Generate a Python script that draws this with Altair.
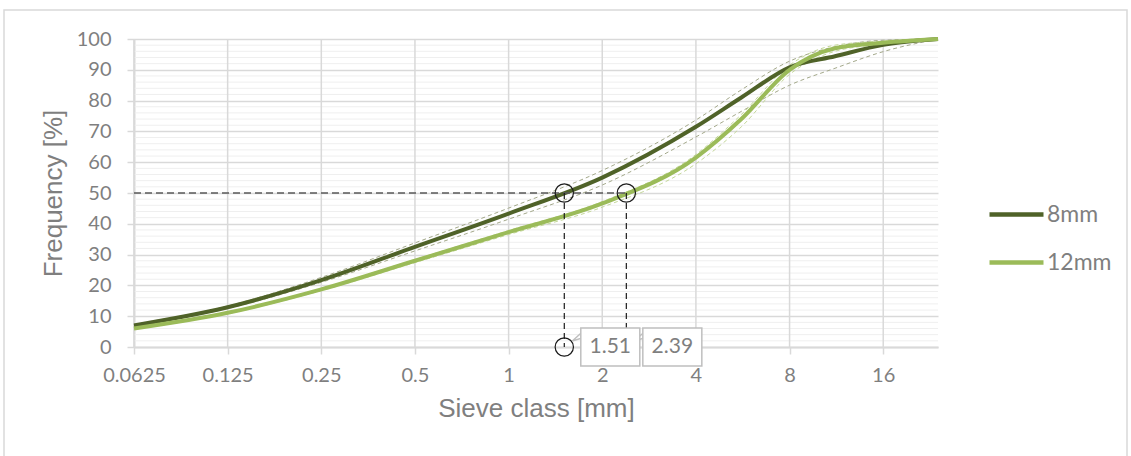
import altair as alt
import pandas as pd

# Sieve classes [mm] and cumulative passing [%]
sieve_mm = [0.0625, 0.125, 0.25, 0.5, 1, 2, 4, 5.6, 8, 11.2, 16, 24]
pass_8mm = [7.0, 12.9, 21.7, 32.5, 43.3, 55.0, 71.5, 81.0, 90.8, 94.4, 98.1, 100]
pass_12mm = [6.0, 11.1, 18.7, 28.0, 37.3, 46.6, 61.5, 74.0, 90.0, 97.0, 98.8, 100]

# Individual sample curves around each mean curve
pass_8mm_hi = [7.4, 13.3, 22.6, 33.8, 45.1, 57.3, 73.7, 83.5, 92.8, 97.5, 99.6, 100]
pass_8mm_lo = [6.8, 12.5, 21.0, 31.2, 41.5, 52.6, 68.2, 76.5, 85.0, 90.5, 95.9, 100]
pass_12mm_hi = [6.2, 11.3, 19.0, 28.4, 37.8, 47.2, 62.5, 75.5, 91.5, 98.0, 99.3, 100]
pass_12mm_lo = [5.8, 10.8, 18.3, 27.4, 36.5, 45.4, 59.5, 71.5, 88.5, 96.0, 98.3, 100]

series_names = ["8mm", "12mm"]
series_colors = ["#4f6228", "#9bbb59"]

# Median grain sizes d50 read at 50 % passing
d50_values = [1.51, 2.39]
d50_labels = ["1.51", "2.39"]
d50_level = 50

x_ticks = [0.0625, 0.125, 0.25, 0.5, 1, 2, 4, 8, 16]
x_domain = [0.0625, 24]
y_major = list(range(0, 101, 10))
y_minor = [v for v in range(2, 100, 2) if v % 10]

GRAY_TEXT = "#7f7f7f"
GRID = "#d9d9d9"
BOX_EDGE = "#bfbfbf"

mean_df = pd.DataFrame({
    "sieve": sieve_mm * 2,
    "passing": pass_8mm + pass_12mm,
    "series": [series_names[0]] * len(sieve_mm) + [series_names[1]] * len(sieve_mm),
})
samples_8 = pd.DataFrame({
    "sieve": sieve_mm * 2,
    "passing": pass_8mm_hi + pass_8mm_lo,
    "sample": ["hi"] * len(sieve_mm) + ["lo"] * len(sieve_mm),
})
samples_12 = pd.DataFrame({
    "sieve": sieve_mm * 2,
    "passing": pass_12mm_hi + pass_12mm_lo,
    "sample": ["hi"] * len(sieve_mm) + ["lo"] * len(sieve_mm),
})
minor_df = pd.DataFrame({"y": y_minor})
vgrid_df = pd.DataFrame({"x": x_ticks})
d50_df = pd.DataFrame({"d": d50_values, "label": d50_labels,
                       "level": [d50_level] * 2, "base": [0] * 2})
hline_df = pd.DataFrame({"x0": [x_domain[0]], "x1": [max(d50_values)], "y": [d50_level]})
circles_df = pd.DataFrame({
    "d": d50_values + d50_values,
    "y": [d50_level] * 2 + [0] * 2,
})

x_scale = alt.Scale(type="log", base=2, domain=x_domain, nice=False)
y_scale = alt.Scale(domain=[0, 100], nice=False)

axis_style = dict(
    labelFont="Lato", labelFontSize=20, labelColor=GRAY_TEXT,
    titleFont="Liberation Sans", titleFontSize=26, titleFontWeight="normal",
    titleColor=GRAY_TEXT, tickSize=7, tickColor=GRID, tickWidth=1.5,
    domainColor=GRID, domainWidth=2, labelOverlap=False,
)
x_axis = alt.Axis(values=x_ticks, format="~g", title="Sieve class [mm]", grid=False,
                  labelFlush=False, labelPadding=11, titlePadding=10, **axis_style)
y_axis = alt.Axis(values=y_major, title="Frequency [%]", grid=True, gridColor=GRID,
                  gridWidth=1.5, labelPadding=16, titlePadding=10, **axis_style)


def X(field):
    return alt.X(field, scale=x_scale, axis=x_axis)


def Y(field):
    return alt.Y(field, scale=y_scale, axis=y_axis)


# light border around the whole chart area
frame = alt.Chart(pd.DataFrame({"k": [0]})).mark_rect(
    fill="transparent", stroke=GRID, strokeWidth=1.5
).encode(x=alt.value(-130), x2=alt.value(993), y=alt.value(-29), y2=alt.value(430))

minor = alt.Chart(minor_df).mark_rule(color="#efefef", strokeWidth=1).encode(y=Y("y:Q"))
vgrid = alt.Chart(vgrid_df).mark_rule(color=GRID, strokeWidth=1.5).encode(x=X("x:Q"))

dash8 = alt.Chart(samples_8).mark_line(
    interpolate="monotone", strokeDash=[4, 3], strokeWidth=1, color="#a3a88a"
).encode(x=X("sieve:Q"), y=Y("passing:Q"), detail="sample:N")
dash12 = alt.Chart(samples_12).mark_line(
    interpolate="monotone", strokeDash=[4, 3], strokeWidth=1, color="#c4d79b"
).encode(x=X("sieve:Q"), y=Y("passing:Q"), detail="sample:N")

lines = alt.Chart(mean_df).mark_line(interpolate="monotone", strokeWidth=4).encode(
    x=X("sieve:Q"), y=Y("passing:Q"),
    color=alt.Color("series:N", sort=series_names,
                    scale=alt.Scale(domain=series_names, range=series_colors),
                    legend=alt.Legend(title=None, orient="none", legendX=853, legendY=146,
                                      symbolType="stroke", symbolSize=2916,
                                      symbolStrokeWidth=4.5, labelFontSize=23,
                                      labelFont="Lato", labelColor=GRAY_TEXT,
                                      rowPadding=6, labelOffset=1, padding=0)),
)

hline = alt.Chart(hline_df).mark_rule(color="#595959", strokeDash=[7, 4], strokeWidth=1.5).encode(
    x=X("x0:Q"), x2="x1:Q", y=Y("y:Q"))
vlines = alt.Chart(d50_df).mark_rule(color="#1a1a1a", strokeDash=[6, 4], strokeWidth=1.2).encode(
    x=X("d:Q"), y=Y("level:Q"), y2="base:Q")
circles = alt.Chart(circles_df).mark_point(
    shape="circle", size=335, filled=False, color="#1a1a1a", strokeWidth=1.2, opacity=1
).encode(x=X("d:Q"), y=Y("y:Q"))

# callout pointer of each label box
tails = alt.Chart(d50_df).mark_point(
    shape="M 18,-15 L 8,-6 L 18,-9 Z", size=4, filled=True, fill="white",
    stroke=BOX_EDGE, strokeWidth=1.5, opacity=1
).encode(x=X("d:Q"), y=Y("base:Q"))
boxes = alt.Chart(d50_df).mark_rect(
    width=59, height=38, xOffset=46, fill="white", stroke=BOX_EDGE, strokeWidth=1.5
).encode(x=X("d:Q"), y=Y("base:Q"))
box_text = alt.Chart(d50_df).mark_text(
    dx=46, fontSize=21, font="Lato", color=GRAY_TEXT
).encode(x=X("d:Q"), y=Y("base:Q"), text="label:N")

chart = alt.layer(
    frame, minor, vgrid, dash8, dash12, lines, hline, vlines, circles,
    tails, boxes, box_text
).properties(
    width=804, height=308,
    padding={"left": 134, "top": 39, "right": 193, "bottom": 109},
    autosize=alt.AutoSizeParams(type="none"),
    background="white",
).configure_view(stroke=None)

chart.save("out.html", embed_options={"renderer": "svg", "actions": False})
